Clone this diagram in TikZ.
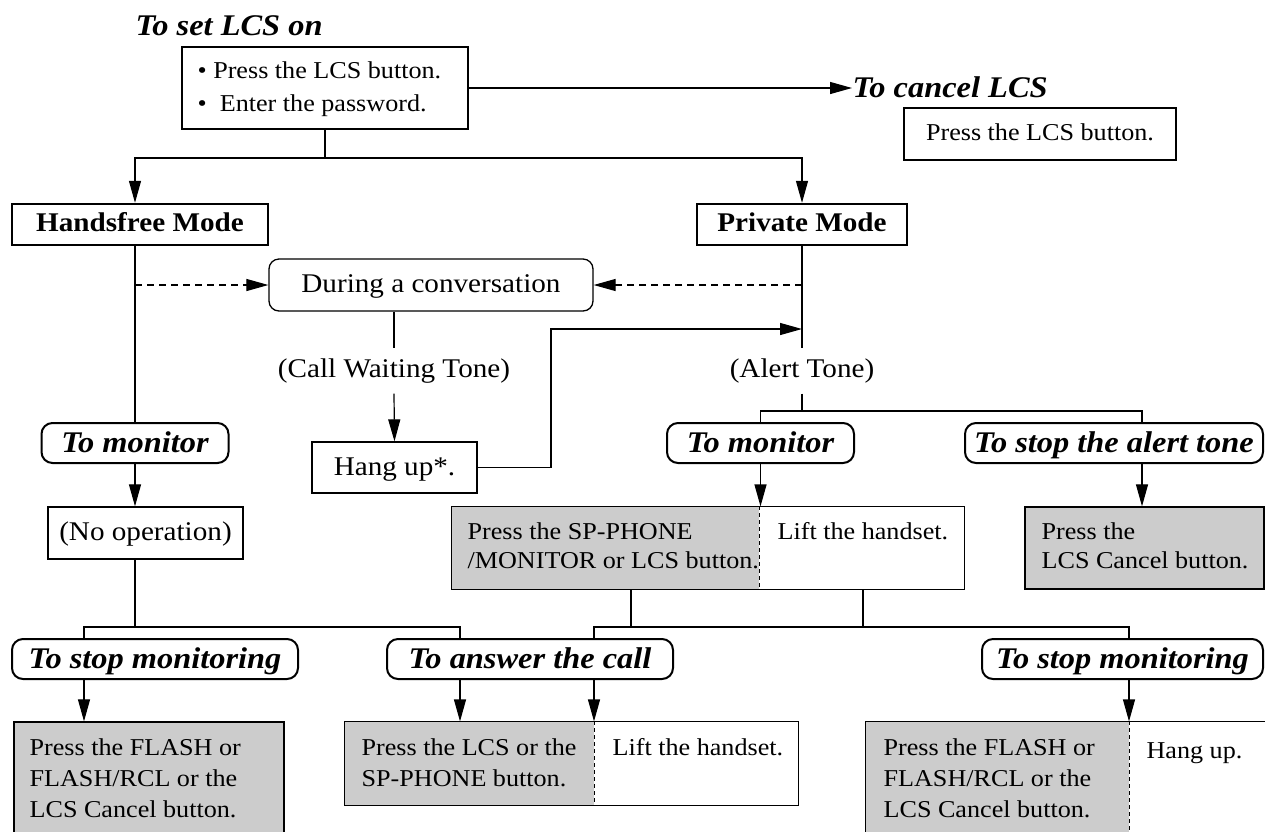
\documentclass[tikz,border=0pt]{standalone}
\usepackage{fontspec}
\setmainfont{Liberation Serif}[FakeStretch=1.08]
\usetikzlibrary{arrows.meta,calc}
\definecolor{boxgray}{RGB}{204,204,204}
\newcommand\fsnorm{\fontsize{27}{31}\selectfont}
\newcommand\fsbox{\fontsize{24.2}{28}\selectfont}
\newcommand\fsbold{\fontsize{27}{31}\selectfont\bfseries}
\newcommand\fsital{\fontsize{30}{34}\selectfont\bfseries\itshape}
\begin{document}
\begin{tikzpicture}[x=1pt,y=-1pt,line width=1.2pt,
  every node/.style={inner sep=0pt},
  plainbox/.style={draw,line width=1.3pt,font=\fsnorm,text height=20pt,text depth=5pt},
  headbox/.style={draw,line width=2.4pt,font=\fsbold,text height=19pt,text depth=6pt},
  pill/.style={draw,line width=2pt,rounded corners=11pt,font=\fsital,text height=22pt,text depth=4pt},
  roundbox/.style={draw,line width=1.3pt,rounded corners=10pt,font=\fsnorm,text height=20pt,text depth=5pt},
  grayfill/.style={fill=boxgray},
  txt/.style={font=\fsbox,anchor=base west,inner sep=0pt},
  lbl/.style={font=\fsnorm,minimum height=44pt,text height=19pt,text depth=7pt},
  arr/.style={-{Triangle[length=22pt,width=12pt]}},
  dasharr/.style={arr,dash pattern=on 7pt off 5pt},
  divider/.style={line width=1pt,dash pattern=on 4pt off 3pt}]
\path[use as bounding box] (0,0) rectangle (1265,831);
\clip (0,0) rectangle (1265,831);

% ---- top ----
\node[font=\fsital,anchor=base west] (title) at (135,35) {To set LCS on};
\node[plainbox,minimum width=286pt,minimum height=82pt] (box1) at (325,88) {};
\node[txt] (b1a) at (197,78) {\textbullet\ Press the LCS button.};
\node[txt] (b1b) at (197,111) {\textbullet\ \ Enter the password.};

\node[font=\fsital,anchor=west,text height=20pt,text depth=0pt] (cancel) at (852,87) {To cancel LCS};
\node[plainbox,font=\fsbox,text height=18pt,text depth=6pt,minimum width=272pt,minimum height=52pt] (cbox) at (1040,134) {Press the LCS button.};
\draw[arr] (box1.east) -- (box1.east -| cancel.west);

\node[headbox,minimum width=256pt,minimum height=41pt] (hf) at (140,224.5) {Handsfree Mode};
\node[headbox,minimum width=210pt,minimum height=41pt] (pm) at (802,224.5) {Private Mode};

\coordinate (j1) at (325,158);
\draw (box1.south) -- (j1);

% ---- middle ----
\node[roundbox,minimum width=324pt,minimum height=52pt] (during) at (431,285) {During a conversation};
\node[pill,minimum width=187pt,minimum height=40pt] (tmL) at (135,443) {To monitor};
\node[plainbox,minimum width=195pt,minimum height=52pt] (noop) at (145.5,533) {(No operation)};

\draw[arr] (j1) -| (tmL.north |- hf.north);
\draw[arr] (j1) -| (pm.north);
\draw (hf.south -| tmL.north) -- (tmL.north);
\draw[dasharr] (during.west -| tmL.north) -- (during.west);
\draw[dasharr] (during.east -| pm.south) -- (during.east);

\node[lbl] (cwt) at (394,371) {(Call Waiting Tone)};
\node[plainbox,minimum width=165pt,minimum height=51pt] (hang) at (394.5,467.5) {Hang up*.};
\draw (during.south -| cwt.north) -- (cwt.north);
\draw[arr] (cwt.south) -- (hang.north);

\node[lbl] (alert) at (802,371) {(Alert Tone)};
\draw (pm.south) -- (alert.north);
\coordinate (h1) at (551,329);
\draw[arr] (hang.east) -| (h1) -- (h1 -| pm.south);

\node[pill,minimum width=187pt,minimum height=40pt] (tmR) at (760.5,443) {To monitor};
\node[pill,minimum width=298pt,minimum height=40pt] (sat) at (1114,443) {To stop the alert tone};
\coordinate (j2) at (802,411);
\coordinate (satx) at (1142,443);
\draw (alert.south) -- (j2);
\draw (j2) -| (tmR.north);
\draw (j2) -| (satx |- sat.north);

\draw[arr] (tmL.south) -- (noop.north -| tmL.south);

% SP-PHONE box
\node[grayfill,minimum width=307pt,minimum height=82pt] (spG) at (605.5,548) {};
\node[minimum width=205pt,minimum height=82pt] (spW) at (861.5,548) {};
\draw[line width=1.3pt] (spG.north west) rectangle (spW.south east);
\draw[divider] (spG.north east) -- (spG.south east);
\node[txt] (sp1) at (467,539) {Press the SP-PHONE};
\node[txt] (sp2) at (467,568) {/MONITOR or LCS button.};
\node[txt] (sp3) at (777,539) {Lift the handset.};
\draw[arr] (tmR.south) -- (tmR.south |- spG.north);

% LCS cancel box
\node[plainbox,grayfill,minimum width=239pt,minimum height=82pt] (cg) at (1144.5,548) {};
\node[txt] (cg1) at (1041,539) {Press the};
\node[txt] (cg2) at (1041,568) {LCS Cancel button.};
\draw[arr] (satx |- sat.south) -- (satx |- cg.north);

% ---- bottom ----
\node[pill,minimum width=286pt,minimum height=40pt] (tsmL) at (155,659) {To stop monitoring};
\node[pill,minimum width=286pt,minimum height=40pt] (tac) at (530,659) {To answer the call};
\node[pill,minimum width=281pt,minimum height=40pt] (tsmR) at (1122.5,659) {To stop monitoring};

\coordinate (j3) at (135,627);
\coordinate (p1) at (84,659);
\coordinate (p2) at (460,659);
\coordinate (p3) at (594,659);
\coordinate (p4) at (1129,659);
\coordinate (g1) at (631,627);
\coordinate (g2) at (863,627);
\draw (noop.south -| tmL.south) -- (j3);
\draw (p1 |- tsmL.north) |- (p2 |- j3) -- (p2 |- tac.north);
\draw (spG.south -| g1) -- (g1);
\draw (spW.south -| g2) -- (g2);
\draw (p3 |- tac.north) |- (p4 |- g1) -- (p4 |- tsmR.north);

% bottom-left box
\node[plainbox,grayfill,minimum width=270pt,minimum height=160pt] (flL) at (149,802) {};
\node[txt] (fl1) at (29,755) {Press the FLASH or};
\node[txt] (fl2) at (29,786) {FLASH/RCL or the};
\node[txt] (fl3) at (29,817) {LCS Cancel button.};
\draw[arr] (p1 |- tsmL.south) -- (p1 |- flL.north);

% bottom-middle box
\node[grayfill,minimum width=249pt,minimum height=83pt] (anG) at (469.5,763.5) {};
\node[minimum width=204pt,minimum height=83pt] (anW) at (696,763.5) {};
\draw[line width=1.3pt] (anG.north west) rectangle (anW.south east);
\draw[divider] (anG.north east) -- (anG.south east);
\node[txt] (an1) at (361,755) {Press the LCS or the};
\node[txt] (an2) at (361,786) {SP-PHONE button.};
\node[txt] (an3) at (612,755) {Lift the handset.};
\draw[arr] (p2 |- tac.south) -- (p2 |- anG.north);
\draw[arr] (p3 |- tac.south) -- (p3 |- anG.north);

% bottom-right box
\node[grayfill,minimum width=263pt,minimum height=160pt] (frG) at (997.5,802) {};
\node[minimum width=200pt,minimum height=160pt] (frW) at (1229,802) {};
\draw[line width=1.3pt] (frG.north west) rectangle (frW.south east);
\draw[divider] (frG.north east) -- (frG.south east);
\node[txt] (fr1) at (883,755) {Press the FLASH or};
\node[txt] (fr2) at (883,786) {FLASH/RCL or the};
\node[txt] (fr3) at (883,817) {LCS Cancel button.};
\node[txt] (fr4) at (1146,758) {Hang up.};
\draw[arr] (p4 |- tsmR.south) -- (p4 |- frG.north);
\end{tikzpicture}
\end{document}
